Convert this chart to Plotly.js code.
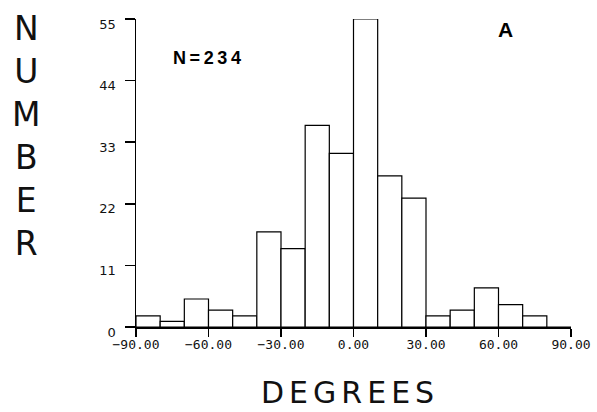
<!DOCTYPE html>
<html>
<head>
<meta charset="utf-8">
<script src="https://cdn.plot.ly/plotly-3.0.1.min.js"></script>
<style>html,body{margin:0;padding:0;background:#fff;}#chart{width:597px;height:412px;}</style>
</head>
<body>
<div id="chart"></div>
<script>
// Bin centres (degrees), 10-degree bins from -90 to 90
const binCenters = [-85, -75, -65, -55, -45, -35, -25, -15, -5, 5, 15, 25, 35, 45, 55, 65, 75, 85];
const counts     = [2, 1, 5, 3, 2, 17, 14, 36, 31, 55, 27, 23, 2, 3, 7, 4, 2, 0];
const xTickVals  = [-90, -60, -30, 0, 30, 60, 90];
const yTickVals  = [0, 11, 22, 33, 44, 55];
const yTitleLetters = ['N', 'U', 'M', 'B', 'E', 'R'];
const xTitleText = 'DEGREES';
const sampleLabel = 'N=234';
const panelLabel = 'A';

const spaced = (s, sp) => s.split('').join(sp);

const trace = {
  type: 'bar',
  x: binCenters,
  y: counts,
  width: 10,
  marker: {color: '#ffffff', line: {color: '#000000', width: 1.2}},
  cliponaxis: false,
  hoverinfo: 'skip'
};

const layout = {
  width: 597, height: 412,
  margin: {l: 136, r: 26, t: 19, b: 85},
  paper_bgcolor: '#ffffff', plot_bgcolor: '#ffffff',
  showlegend: false,
  bargap: 0,
  xaxis: {
    range: [-90, 90],
    tickmode: 'array', tickvals: xTickVals,
    tickformat: '.2f',
    ticks: 'outside', ticklen: 8, tickwidth: 1.5, tickcolor: '#000',
    showline: true, linecolor: '#000', linewidth: 1.5,
    showgrid: false, zeroline: false,
    ticklabelstandoff: -3,
    tickfont: {family: 'DejaVu Sans Mono', size: 13, color: '#111'}
  },
  yaxis: {
    range: [0, 55],
    tickmode: 'array', tickvals: yTickVals,
    ticks: 'outside', ticklen: 10, tickwidth: 1.5, tickcolor: '#000',
    showline: true, linecolor: '#000', linewidth: 1.5,
    showgrid: false, zeroline: false,
    ticklabelshift: 5, ticklabelstandoff: 6,
    tickfont: {family: 'DejaVu Sans', size: 13, color: '#111'}
  },
  annotations: [
    {xref: 'paper', yref: 'paper', x: (26 - 136) / 435, y: (412 - 85 - 136) / 308,
     xanchor: 'center', yanchor: 'middle', showarrow: false,
     text: yTitleLetters.join('<br>'),
     font: {family: 'DejaVu Sans', size: 33, color: '#111'}},
    {xref: 'paper', yref: 'paper', x: (347 - 136) / 435, y: (412 - 85 - 392) / 308,
     xanchor: 'center', yanchor: 'middle', showarrow: false,
     text: spaced(xTitleText, '\u2006'),
     font: {family: 'DejaVu Sans', size: 30, color: '#111'}},
    {xref: 'paper', yref: 'paper', x: (207 - 136) / 435, y: (412 - 85 - 57.5) / 308,
     xanchor: 'center', yanchor: 'middle', showarrow: false,
     text: spaced(sampleLabel, '\u2009'),
     font: {family: 'Liberation Sans', size: 18, color: '#000', weight: 'bold'}},
    {xref: 'paper', yref: 'paper', x: (505.5 - 136) / 435, y: (412 - 85 - 30) / 308,
     xanchor: 'center', yanchor: 'middle', showarrow: false,
     text: panelLabel,
     font: {family: 'Liberation Sans', size: 21, color: '#000', weight: 'bold'}}
  ]
};

Plotly.newPlot('chart', [trace], layout, {displayModeBar: false, staticPlot: true});
</script>
</body>
</html>
